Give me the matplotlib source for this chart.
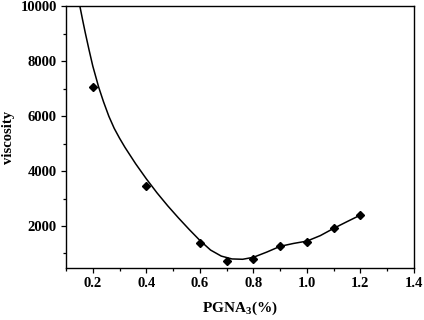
import matplotlib.pyplot as plt
from matplotlib.ticker import MultipleLocator

# measured points
conc = [0.2, 0.4, 0.6, 0.7, 0.8, 0.9, 1.0, 1.1, 1.2]
visc = [7060, 3465, 1385, 730, 812, 1262, 1430, 1915, 2400]

# fitted curve
curve_x = [0.152, 0.162, 0.172, 0.186, 0.20, 0.222, 0.24, 0.26, 0.28, 0.30, 0.32, 0.36,
           0.40, 0.44, 0.48, 0.52, 0.56, 0.60, 0.64, 0.68, 0.72, 0.76, 0.80,
           0.85, 0.90, 0.95, 1.00, 1.05, 1.10, 1.15, 1.20]
curve_y = [10000, 9510, 9040, 8420, 7830, 7060, 6530, 6000, 5560, 5200, 4870, 4270,
           3720, 3208, 2736, 2296, 1876, 1476, 1124, 904, 800, 788, 860,
           1050, 1260, 1365, 1450, 1650, 1915, 2160, 2400]

plt.rcParams['font.family'] = ['Liberation Serif', 'DejaVu Serif']
plt.rcParams['font.weight'] = 'bold'
plt.rcParams['mathtext.fontset'] = 'custom'
plt.rcParams['mathtext.rm'] = 'Liberation Serif:bold'

fig = plt.figure(figsize=(4.24, 3.2), dpi=100)
ax = fig.add_axes([0.1557, 0.1625, 0.8207, 0.8172])

ax.plot(curve_x, curve_y, color='k', lw=1.1)
ax.plot(conc, visc, 'D', color='k', markersize=4.5)

ax.set_xlim(0.1, 1.4)
ax.set_ylim(470, 10000)
ax.xaxis.set_major_locator(MultipleLocator(0.2))
ax.xaxis.set_minor_locator(MultipleLocator(0.1))
ax.yaxis.set_major_locator(MultipleLocator(2000))
ax.yaxis.set_minor_locator(MultipleLocator(1000))
ax.xaxis.set_major_formatter(lambda v, p: f'{v:.1f}')
ax.set_yticks([2000, 4000, 6000, 8000, 10000])

ax.tick_params(which='major', direction='out', length=3.5, width=0.9, labelsize=10.5, pad=3)
ax.tick_params(which='minor', direction='out', length=2.2, width=0.9)
ax.tick_params(top=False, right=False)
for s in ax.spines.values():
    s.set_linewidth(1.0)

ax.set_xlabel(r'PGNA$_\mathrm{3}$(%)', fontsize=11, fontweight='bold', labelpad=7)
ax.set_ylabel('viscosity', fontsize=10.5, fontweight='bold', labelpad=4)

fig.savefig('out.png', dpi=100)
